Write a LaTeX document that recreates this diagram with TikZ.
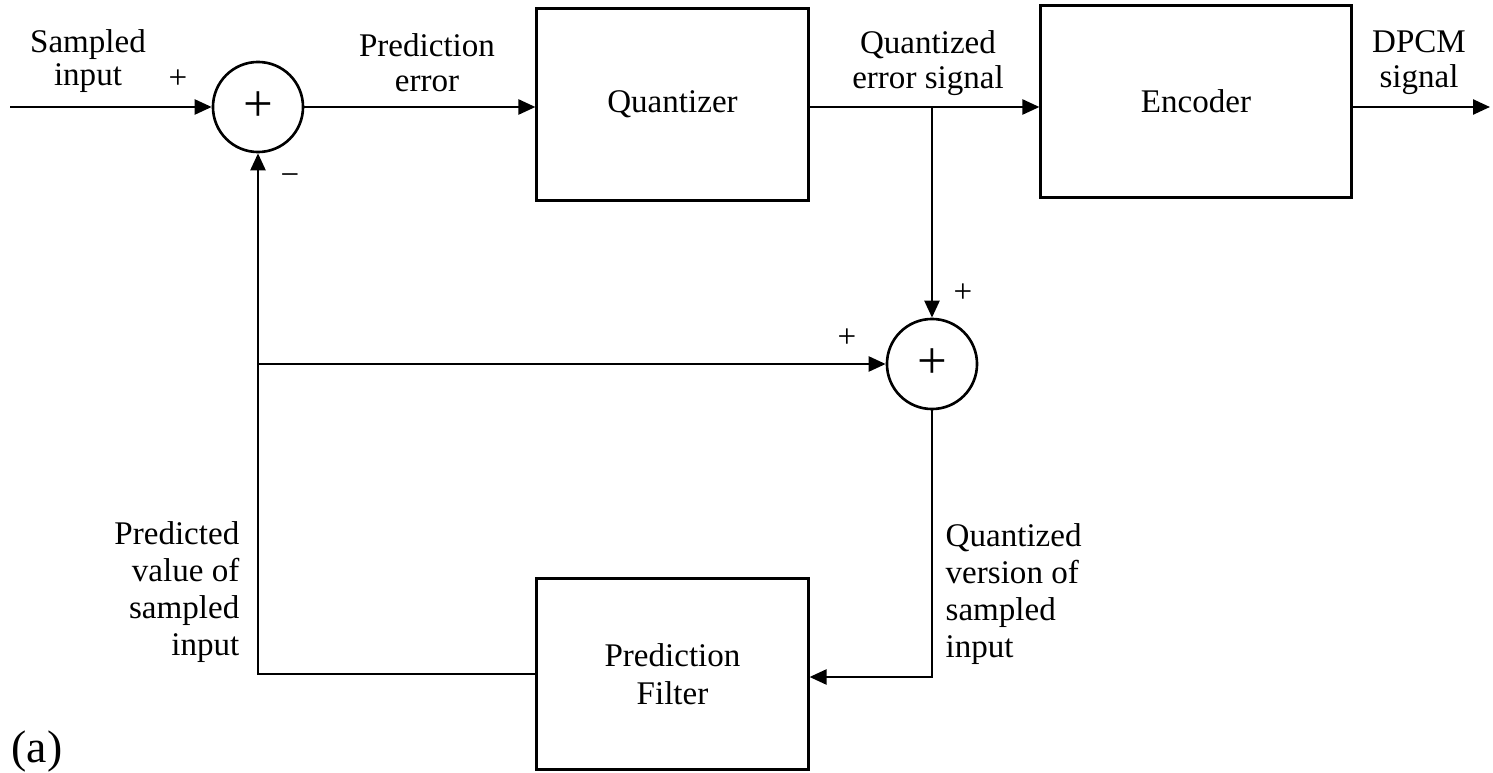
\documentclass[tikz,border=0pt]{standalone}
\usepackage{fontspec}
\setmainfont{Liberation Serif}
\usetikzlibrary{arrows.meta}
\newcommand{\lblfont}{\fontsize{9.4pt}{10pt}\selectfont}
\begin{document}
\begin{tikzpicture}[x=0.01cm,y=-0.01cm,
  blk/.style={draw, line width=0.85pt, inner sep=0, font=\lblfont, align=center},
  summer/.style={draw, circle, line width=0.75pt, minimum size=0.9cm, inner sep=0, font=\fontsize{15pt}{15pt}\selectfont},
  lbl/.style={inner sep=0, font=\lblfont, align=center},
  sign/.style={inner sep=0, font=\lblfont},
  conn/.style={line width=0.7pt},
  arr/.style={conn, -{Triangle[length=0.17cm, width=0.15cm]}}]
\useasboundingbox (0,0) rectangle (1493,773);

% blocks
\node[blk, minimum width=2.71cm, minimum height=1.91cm] (q) at (672.5,104.5) {Quantizer};
\node[blk, minimum width=3.10cm, minimum height=1.91cm] (e) at (1196,101.5) {Encoder};
\node[blk, minimum width=2.71cm, minimum height=1.90cm, font=\fontsize{9.4pt}{10.8pt}\selectfont] (f) at (672.5,674) {Prediction\\Filter};
\node[summer] (s1) at (258,107) {+};
\node[summer] (s2) at (932,364) {+};

% coordinates
\coordinate (in) at (10,107);
\coordinate (out) at (1490,107);
\coordinate (j1) at (932,107);
\coordinate (j2) at (258,364);
\coordinate (c3) at (258,674);
\coordinate (c4) at (932,677);

% connectors
\draw[arr] (in) -- (s1);
\draw[arr] (s1.east) -- (s1.east -| q.west);
\draw[arr] (j1 -| q.east) -- (j1 -| e.west);
\draw[arr] (j1 -| e.east) -- (out);
\draw[arr] (j1) -- (s2);
\draw[arr] (s2) -- (c4) -- (c4 -| f.east);
\draw[arr] (f.west) -- (c3) -- (s1);
\draw[arr] (j2) -- (s2);

% labels
\node[lbl, font=\fontsize{9.4pt}{9.4pt}\selectfont] (lsi) at (88,61) {Sampled\\input};
\node[lbl, font=\fontsize{9.4pt}{10pt}\selectfont] (lpe) at (427,63) {Prediction\\error};
\node[lbl, font=\fontsize{9.4pt}{10pt}\selectfont] (lqe) at (928,63) {Quantized\\error signal};
\node[lbl, font=\fontsize{9.4pt}{10pt}\selectfont] (ldp) at (1419,63) {DPCM\\signal};
\node[lbl, align=right, anchor=east, font=\fontsize{9.4pt}{10.5pt}\selectfont] (lpv) at (240,592) {Predicted\\value of\\sampled\\input};
\node[lbl, align=left, anchor=west, font=\fontsize{9.4pt}{10.5pt}\selectfont] (lqv) at (945,594) {Quantized\\version of\\sampled\\input};
\node[sign] (p1) at (178,79) {+};
\node[sign] (m1) at (290,180) {−};
\node[sign] (p2) at (963,293) {+};
\node[sign] (p3) at (847,338) {+};
\node[inner sep=0, font=\fontsize{13pt}{13pt}\selectfont] (la) at (37,752) {(a)};
\end{tikzpicture}
\end{document}
